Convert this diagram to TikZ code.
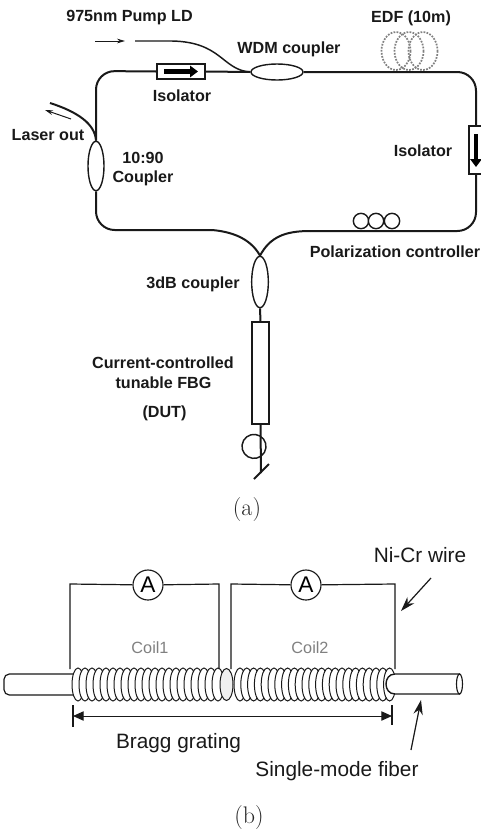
\documentclass[tikz,border=0pt]{standalone}
\usepackage{fontspec}
\setmainfont{Liberation Sans}
\newfontfamily\lmfont{Latin Modern Roman}
\usetikzlibrary{shapes.geometric,arrows.meta}
\tikzset{
  fiber/.style={line width=1.5pt,black!90},
  thinfiber/.style={line width=1.1pt,black!90},
  coupler/.style={ellipse,draw=black!90,fill=white,line width=1.05pt,inner sep=0pt},
  isobox/.style={rectangle,draw=black!90,fill=white,line width=1.05pt,inner sep=0pt},
  lab/.style={font=\fontsize{12.1}{14}\selectfont\bfseries,text=black!90,inner sep=0pt},
  blab/.style={font=\fontsize{15.6}{18}\selectfont,text=black!90,inner sep=0pt},
  coillab/.style={font=\fontsize{12.2}{14}\selectfont,text=black!50,inner sep=0pt},
  captext/.style={font=\lmfont\fontsize{18}{20}\selectfont,text=black!85,inner sep=0pt},
  meter/.style={circle,draw=black!90,fill=white,line width=.85pt,inner sep=0pt,minimum size=22.5pt,font=\fontsize{17}{17}\selectfont},
  pc/.style={circle,draw=black!90,fill=white,line width=1.05pt,inner sep=0pt,minimum size=11.5pt},
  edf/.style={draw=black!50,line width=1.3pt,densely dotted},
  wire/.style={line width=.9pt,black!90},
  turn/.style={draw=black!90,fill=white,line width=.75pt},
  bigarrow/.style={line width=3.2pt,black,-{Triangle[length=6pt,width=8.5pt]}},
  smallarrow/.style={line width=.75pt,black!90,-{Stealth[length=6pt,width=3.5pt]}},
  dimarrow/.style={line width=.75pt,black!90,{Triangle[length=8pt,width=7pt]}-{Triangle[length=8pt,width=7pt]}},
  pointer/.style={line width=.9pt,black!90,-{Stealth[length=11pt,width=7pt]}},
}
\begin{document}
\begin{tikzpicture}[x=.75pt,y=-.75pt]
\useasboundingbox (0,0) rectangle (481,829);
% ---------- part (a)
\foreach \cx in {396,409,423}{\draw[edf] (\cx,51) ellipse [x radius=14.5,y radius=19];}
\node[coupler,minimum width=39pt,minimum height=12pt] (wdm) at (277,72) {};
\node[coupler,minimum width=12pt,minimum height=37pt] (c1090) at (96,166) {};
\node[coupler,minimum width=12.5pt,minimum height=38.5pt] (c3db) at (260,282) {};
\node[isobox,minimum width=36pt,minimum height=11.5pt] (iso1) at (181,71.5) {};
\node[isobox,minimum width=12pt,minimum height=36pt] (iso2) at (477,150) {};
\node[isobox,minimum width=12.8pt,minimum height=76.5pt] (fbg) at (260.5,373) {};
\coordinate (tl) at (96,71);
\coordinate (tr) at (476,72);
\coordinate (br) at (476,231);
\coordinate (bl) at (96,230);
\coordinate (pcl) at (310,231);
\coordinate (cbl) at (212,230);
\coordinate (pumpstart) at (135,41);
\coordinate (pumpa) at (95,41);
\coordinate (pumpb) at (125,41);
\coordinate (laser) at (50,103);
\coordinate (lasera) at (71,119);
\coordinate (laserb) at (45,110);
\coordinate (fbgend) at (261,473);
\coordinate (slashb) at (254,479);
\coordinate (slasht) at (269,464);
\draw[fiber,rounded corners=14pt] (c1090.north) -- (tl) -- (iso1.west);
\draw[fiber] (iso1.east) -- (wdm.west);
\draw[fiber,rounded corners=14pt] (wdm.east) -- (tr) -- (iso2.north -| tr);
\draw[fiber,rounded corners=14pt] (iso2.south -| br) -- (br) -- (pcl);
\draw[fiber,rounded corners=14pt] (c1090.south) -- (bl) -- (cbl);
\draw[fiber] (pcl) .. controls (285,231) and (270,237) .. (c3db.north);
\draw[fiber] (cbl) .. controls (236,232) and (252,241) .. (c3db.north);
\draw[thinfiber] (pumpstart) -- (172,41) .. controls (222,42) and (222,70) .. (wdm.west);
\draw[fiber] (laser) .. controls (78,112) and (95,124) .. (c1090.north);
\draw[smallarrow] (pumpa) -- (pumpb);
\draw[smallarrow] (lasera) -- (laserb);
\draw[bigarrow] (164,71.5) -- (198,71.5);
\draw[bigarrow] (476,134) -- (476,167);
\node[pc] (pc1) at (361,221) {};
\node[pc] (pc2) at (376,221) {};
\node[pc] (pc3) at (392,221) {};
\draw[fiber] (c3db.south) -- (fbg.north);
\draw[fiber] (fbg.south) -- (fbgend);
\draw[fiber] (slashb) -- (slasht);
\draw[thinfiber] (260,436) arc [start angle=-60,end angle=300,radius=12];
\node[lab] (t975) at (129.5,18) {975nm Pump LD};
\node[lab] (tedf) at (411,18) {EDF (10m)};
\node[lab] (twdm) at (289,49) {WDM coupler};
\node[lab] (tiso1) at (182,96) {Isolator};
\node[lab] (tiso2) at (423,151) {Isolator};
\node[lab] (tlaser) at (48,135) {Laser out};
\node[lab] (t1090) at (143,158) {10:90};
\node[lab] (tcoup) at (143,178) {Coupler};
\node[lab] (tpol) at (395,252) {Polarization controller};
\node[lab] (t3db) at (193,284) {3dB coupler};
\node[lab] (tcur) at (163,363) {Current-controlled};
\node[lab] (ttun) at (163.5,383) {tunable FBG};
\node[lab] (tdut) at (164.5,413) {(DUT)};
\node[captext] (capa) at (247,510) {(a)};
% ---------- part (b)
\path[draw=black!90,line width=.9pt,fill=white,rounded corners=4pt] (74,674) -- (4,674) -- (4,695) -- (74,695);
\foreach \i in {0,...,20}{\path[turn] ({78+\i*7},684.5) ellipse [x radius=6,y radius=16.5];}
\path[turn,fill=black!6] (226.5,684.5) ellipse [x radius=6.5,y radius=16];
\foreach \i in {0,...,22}{\path[turn] ({240+\i*6.8},684.5) ellipse [x radius=6,y radius=16.5];}
\path[draw=black!90,line width=1.05pt,fill=white] (460,674) -- (395,674) .. controls (383,674) and (383,694) .. (395,694) -- (460,694);
\draw[line width=.85pt,black!90,fill=white] (459.5,684) ellipse [x radius=3,y radius=10];
\node[meter] (am1) at (148,585) {A};
\node[meter] (am2) at (306,585) {A};
\coordinate (w1a) at (70,584);
\coordinate (w1b) at (70,669);
\coordinate (w1c) at (219,584);
\coordinate (w1d) at (219,669);
\coordinate (w2a) at (231,584);
\coordinate (w2b) at (231,669);
\coordinate (w2c) at (395,584);
\coordinate (w2d) at (395,669);
\draw[wire] (am1) -- (w1a) -- (w1b);
\draw[wire] (am1) -- (w1c) -- (w1d);
\draw[wire] (am2) -- (w2a) -- (w2b);
\draw[wire] (am2) -- (w2c) -- (w2d);
\node[coillab] (coil1) at (150,648) {Coil1};
\node[coillab] (coil2) at (310,648) {Coil2};
\coordinate (dl) at (73,716);
\coordinate (dr) at (392,716);
\draw[wire] (73,705) -- (73,727);
\draw[wire] (392,705) -- (392,725);
\draw[dimarrow] (dl) -- (dr);
\node[blab] (tni) at (420,555) {Ni-Cr wire};
\node[blab] (tbragg) at (178.5,743) {Bragg grating};
\node[blab] (tsm) at (337,771) {Single-mode fiber};
\coordinate (nia) at (431,578);
\coordinate (nib) at (401,611);
\coordinate (sma) at (411,750);
\coordinate (smb) at (421,700);
\draw[pointer] (nia) -- (nib);
\draw[pointer] (sma) -- (smb);
\node[captext] (capb) at (249,818) {(b)};
\end{tikzpicture}
\end{document}
